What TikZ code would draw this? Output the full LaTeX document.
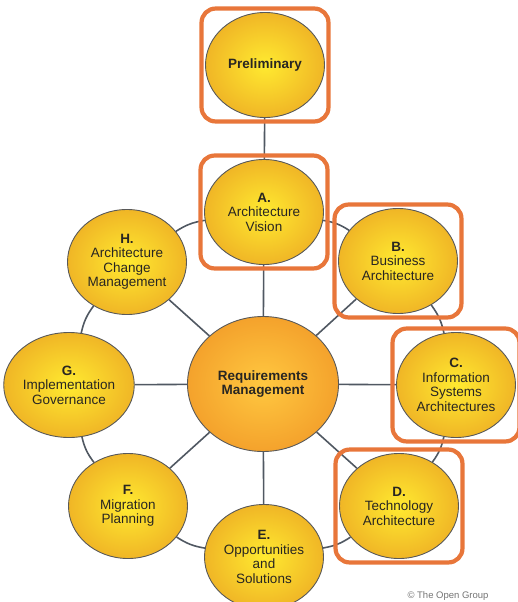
\documentclass[tikz,border=0pt]{standalone}
\usepackage{fontspec}
\setmainfont{Liberation Sans}
\usepackage{tikz}
\usetikzlibrary{shapes.geometric, fit, backgrounds, positioning}
\usepackage{xcolor}
\definecolor{phaseinner}{RGB}{255, 234, 48}
\definecolor{phaseouter}{RGB}{240, 182, 38}
\definecolor{reqinner}{RGB}{255, 200, 64}
\definecolor{reqouter}{RGB}{244, 162, 44}
\definecolor{linkgray}{RGB}{80, 88, 98}
\definecolor{boxorange}{RGB}{232, 118, 58}
\definecolor{textgray}{RGB}{40, 38, 34}

\begin{document}
\begin{tikzpicture}[x=1pt, y=-1pt, line cap=round, line join=round,
    phase/.style={ellipse, draw=black!65, line width=0.9pt, inner sep=0pt,
        minimum width=119pt, minimum height=105pt, align=center,
        inner color=phaseinner, outer color=phaseouter, text=textgray,
        font=\fontsize{13.5}{14.5}\selectfont},
    reqphase/.style={phase, minimum width=151pt, minimum height=135pt,
        inner color=reqinner, outer color=reqouter},
    link/.style={linkgray, line width=1.6pt},
    hilite/.style={draw=boxorange, line width=4.2pt, rounded corners=14pt, inner sep=3.5pt}]

    \useasboundingbox (0,0) rectangle (518,602);

    % phases of the cycle
    \node[reqphase] (req) at (263,384) {\textbf{Requirements}\\\textbf{Management}};
    \node[phase] (pre) at (265,65) {\textbf{Preliminary}};
    \node[phase] (a) at (264,212) {\textbf{A.}\\Architecture\\Vision};
    \node[phase] (b) at (398,261) {\textbf{B.}\\Business\\Architecture};
    \node[phase] (c) at (456,385) {\textbf{C.}\\Information\\Systems\\Architectures};
    \node[phase] (d) at (399,506) {\textbf{D.}\\Technology\\Architecture};
    \node[phase] (e) at (264,557) {\textbf{E.}\\Opportunities\\and\\Solutions};
    \node[phase] (f) at (128,506) {\textbf{F.}\\Migration\\Planning};
    \node[phase] (g) at (69,385) {\textbf{G.}\\Implementation\\Governance};
    \node[phase] (h) at (127,262) {\textbf{H.}\\Architecture\\Change\\Management};

    \begin{scope}[on background layer]
        % spokes
        \draw[link] (pre) -- (a);
        \foreach \p in {a,b,c,d,e,f,g,h}
            \draw[link] (req) -- (\p);
        % ring
        \draw[link] (h) to[bend left=12] (a);
        \draw[link] (a) to[bend left=12] (b);
        \draw[link] (b) to[bend left=12] (c);
        \draw[link] (c) to[bend left=12] (d);
        \draw[link] (d) to[bend left=12] (e);
        \draw[link] (e) to[bend left=12] (f);
        \draw[link] (f) to[bend left=12] (g);
        \draw[link] (g) to[bend left=12] (h);
    \end{scope}

    % highlighted phases
    \node[hilite, fit=(pre)] (preBox) {};
    \node[hilite, fit=(a)] (aBox) {};
    \node[hilite, fit=(b)] (bBox) {};
    \node[hilite, fit=(c)] (cBox) {};
    \node[hilite, fit=(d)] (dBox) {};

    \node[text=black!55, font=\fontsize{9.5}{10}\selectfont, anchor=east] (copy) at (492,596) {\textcopyright{} The Open Group};
\end{tikzpicture}
\end{document}
